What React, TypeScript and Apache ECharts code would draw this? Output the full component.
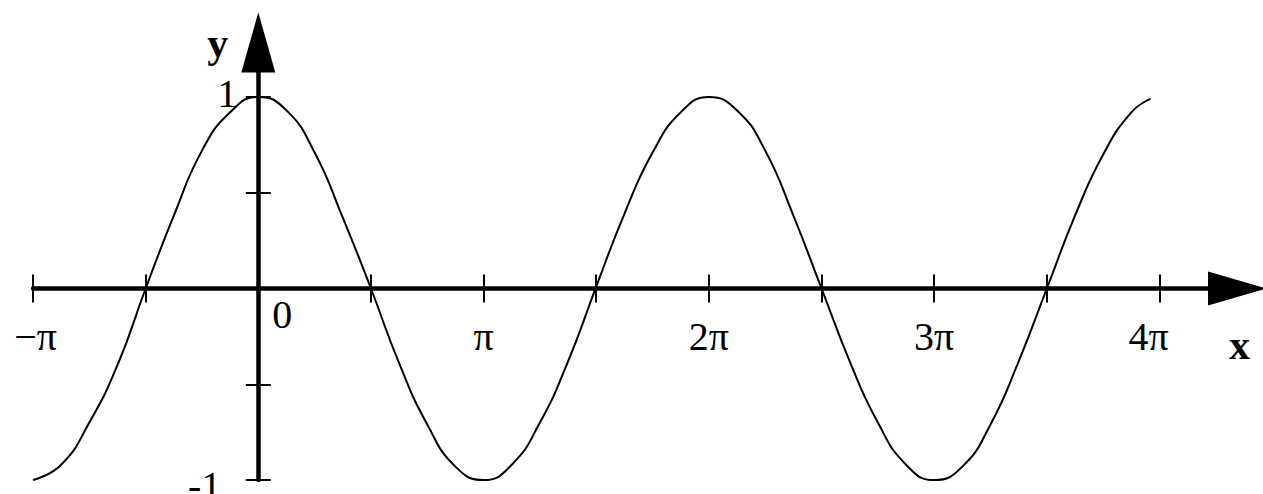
import React, { useEffect, useRef } from 'react';
import * as echarts from 'echarts';

// Curve samples (x in units of π)
const curveX = [
  -1, -0.875, -0.75, -0.625, -0.5, -0.375, -0.25, -0.125,
  0, 0.125, 0.25, 0.375, 0.5, 0.625, 0.75, 0.875,
  1, 1.125, 1.25, 1.375, 1.5, 1.625, 1.75, 1.875,
  2, 2.125, 2.25, 2.375, 2.5, 2.625, 2.75, 2.875,
  3, 3.125, 3.25, 3.375, 3.5, 3.625, 3.75, 3.875, 3.96,
];
const curveY = [
  -1.0, -0.92, -0.7, -0.4, 0.0, 0.38, 0.72, 0.92,
  1.0, 0.93, 0.71, 0.37, 0.0, -0.39, -0.71, -0.93,
  -1.0, -0.92, -0.7, -0.38, 0.01, 0.39, 0.71, 0.92,
  1.0, 0.93, 0.72, 0.38, 0.0, -0.38, -0.7, -0.92,
  -1.0, -0.93, -0.71, -0.38, 0.0, 0.38, 0.7, 0.92, 0.99,
];

const xTickValues = [-1, -0.5, 0, 0.5, 1, 1.5, 2, 2.5, 3, 3.5, 4];
const xLabelValues = [-1, 0, 1, 2, 3, 4];
const xLabelTexts = ['−π', '0', 'π', '2π', '3π', '4π'];
const yTickValues = [-1, -0.5, 0.5, 1];
const yLabelValues = [-1, 1];
const yLabelTexts = ['-1', '1'];
const xName = 'x';
const yName = 'y';

const FONT = '"Liberation Serif", "Times New Roman", serif';
const X_MIN = -1;
const X_MAX = 4.344;
const Y_MIN = -1;
const Y_MAX = 1.2846;

const W_TOTAL = 1263;
const H_TOTAL = 494;
const G_LEFT = 33;
const G_RIGHT = 26;
const G_TOP = 42.5;
const G_BOTTOM = 14;

function findIndex(arr: number[], v: number) {
  for (let i = 0; i < arr.length; i++) if (Math.abs(arr[i] - v) < 1e-6) return i;
  return -1;
}

export default function App() {
  const ref = useRef<HTMLDivElement>(null);
  useEffect(() => {
    if (!ref.current) return;
    const chart = echarts.init(ref.current, null, { renderer: 'svg' });
    const tickLine = { color: '#000', width: 2 };
    const labelBase = { color: '#000', fontSize: 40, fontFamily: FONT };

    // where the zero lines fall inside the grid, used to shift the label axes onto them
    const gw = W_TOTAL - G_LEFT - G_RIGHT;
    const gh = H_TOTAL - G_TOP - G_BOTTOM;
    const zeroYFromBottom = ((0 - Y_MIN) / (Y_MAX - Y_MIN)) * gh;
    const zeroXFromLeft = ((0 - X_MIN) / (X_MAX - X_MIN)) * gw;

    const option: any = {
      animation: false,
      backgroundColor: '#fff',
      grid: {
        left: G_LEFT,
        right: G_RIGHT,
        top: G_TOP,
        bottom: G_BOTTOM,
        containLabel: false,
        outerBoundsMode: 'none',
      },
      xAxis: [
        {
          type: 'value',
          min: X_MIN,
          max: X_MAX,
          position: 'bottom',
          axisLine: {
            show: true,
            onZero: true,
            onZeroAxisIndex: 0,
            symbol: ['none', 'triangle'],
            symbolSize: [34, 58],
            lineStyle: { color: '#000', width: 4.5 },
          },
          axisTick: {
            show: true,
            customValues: xTickValues,
            length: 14,
            inside: false,
            lineStyle: tickLine,
          },
          axisLabel: { show: false },
          splitLine: { show: false },
          name: xName,
          nameLocation: 'end',
          nameGap: 0,
          nameMoveOverlap: false,
          nameTextStyle: {
            color: '#000',
            fontSize: 42,
            fontWeight: 'bold',
            fontFamily: FONT,
            align: 'center',
            verticalAlign: 'top',
            padding: [35, 0, 0, 5],
          },
        },
        {
          type: 'value',
          min: X_MIN,
          max: X_MAX,
          position: 'bottom',
          offset: -zeroYFromBottom,
          axisLine: { show: false, onZero: false },
          axisTick: {
            show: true,
            customValues: xTickValues,
            length: 14,
            inside: true,
            lineStyle: tickLine,
          },
          axisLabel: {
            show: true,
            customValues: xLabelValues,
            margin: 6,
            ...labelBase,
            formatter: (v: number) => {
              const i = findIndex(xLabelValues, v);
              if (i < 0) return '';
              const key = v === 0 ? 'z' : v === 4 ? 'e' : v === -1 ? 'm' : 'a';
              return `{${key}|${xLabelTexts[i]}}`;
            },
            rich: {
              a: { ...labelBase, padding: [22, 0, 0, 0] },
              m: { ...labelBase, padding: [22, 0, 0, 5] },
              e: { ...labelBase, padding: [22, 22, 0, 0] },
              z: { ...labelBase, padding: [0, 0, 0, 48] },
            },
          },
          splitLine: { show: false },
        },
      ],
      yAxis: [
        {
          type: 'value',
          min: Y_MIN,
          max: Y_MAX,
          position: 'left',
          axisLine: {
            show: true,
            onZero: true,
            onZeroAxisIndex: 0,
            symbol: ['none', 'triangle'],
            symbolSize: [34, 60],
            lineStyle: { color: '#000', width: 4.5 },
          },
          axisTick: {
            show: true,
            customValues: yTickValues,
            length: 12.5,
            inside: false,
            lineStyle: tickLine,
          },
          axisLabel: { show: false },
          splitLine: { show: false },
          name: yName,
          nameLocation: 'end',
          nameGap: 0,
          nameMoveOverlap: false,
          nameTextStyle: {
            color: '#000',
            fontSize: 42,
            fontWeight: 'bold',
            fontFamily: FONT,
            align: 'right',
            verticalAlign: 'middle',
            padding: [0, 30, 12, 0],
          },
        },
        {
          type: 'value',
          min: Y_MIN,
          max: Y_MAX,
          position: 'left',
          offset: -zeroXFromLeft,
          axisLine: { show: false, onZero: false },
          axisTick: {
            show: true,
            customValues: yTickValues,
            length: 12.5,
            inside: true,
            lineStyle: tickLine,
          },
          axisLabel: {
            show: true,
            customValues: yLabelValues,
            margin: 21,
            ...labelBase,
            formatter: (v: number) => {
              const i = findIndex(yLabelValues, v);
              if (i < 0) return '';
              const key = v > 0 ? 'p' : 'n';
              return `{${key}|${yLabelTexts[i]}}`;
            },
            rich: {
              p: { ...labelBase, padding: [0, 0, 7, 0] },
              n: { ...labelBase, padding: [11, 16, 0, 0] },
            },
          },
          splitLine: { show: false },
        },
      ],
      series: [
        {
          type: 'line',
          xAxisIndex: 0,
          yAxisIndex: 0,
          data: curveX.map((x, i) => [x, curveY[i]]),
          smooth: true,
          showSymbol: false,
          symbol: 'none',
          lineStyle: { color: '#000', width: 2 },
          itemStyle: { color: '#000' },
          z: 1,
        },
      ],
    };
    chart.setOption(option);
    return () => chart.dispose();
  }, []);
  return (
    <div
      ref={ref}
      style={{ position: 'absolute', left: 0, top: 0, width: W_TOTAL, height: H_TOTAL, background: '#fff' }}
    />
  );
}
